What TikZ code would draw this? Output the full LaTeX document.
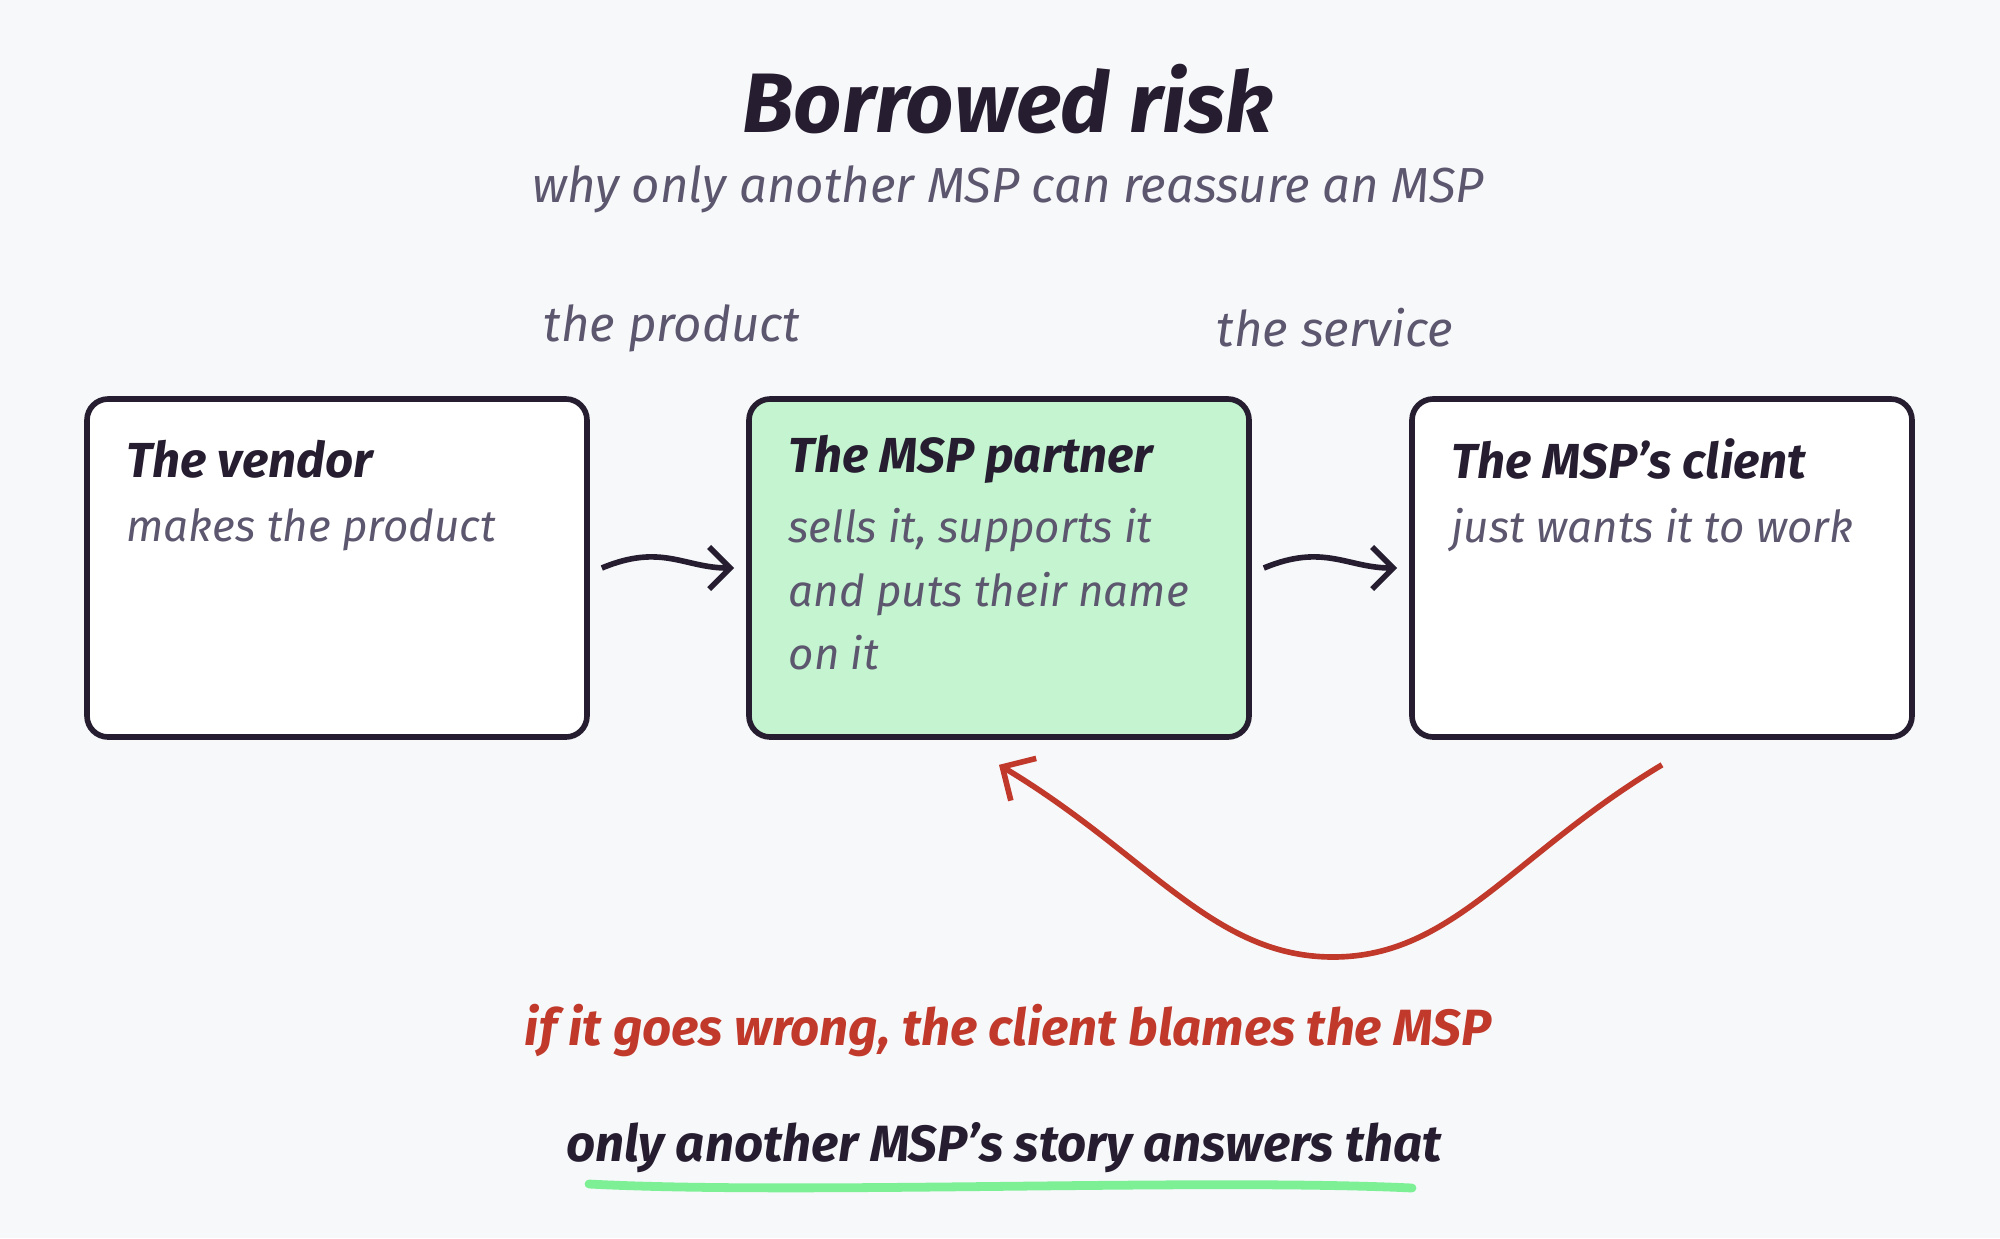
\documentclass[tikz,border=0pt]{standalone}
\usepackage{fontspec}
\setmainfont{Fira Sans}
\usetikzlibrary{arrows.meta, positioning}
\definecolor{ink}{RGB}{38,30,48}
\definecolor{muted}{RGB}{92,86,110}
\definecolor{risk}{RGB}{192,57,43}
\definecolor{partner}{RGB}{196,245,208}
\definecolor{hilite}{RGB}{125,240,150}
\definecolor{paper}{RGB}{247,248,250}
\tikzset{
    card/.style={rectangle, rounded corners=6pt, draw=ink, line width=1.6pt, fill=white, minimum width=5cm, minimum height=3.38cm},
    head/.style={anchor=west, font=\fontsize{14}{18}\selectfont\itshape\bfseries, text=ink},
    note/.style={anchor=north west, font=\fontsize{12.5}{18}\selectfont\itshape, text=muted, align=left},
    flow/.style={-{Straight Barb[length=6pt]}, line width=1.6pt, draw=ink}
}
\begin{document}
\begin{tikzpicture}
    \useasboundingbox[fill=paper] (0,0) rectangle (20,-12.38);
    % Titles
    \node[font=\fontsize{24}{28}\selectfont\itshape\bfseries, text=ink] (title) at (10.08,-0.99) {Borrowed risk};
    \node[font=\fontsize{14}{18}\selectfont\itshape, text=muted] (subtitle) at (10.08,-1.89) {why only another MSP can reassure an MSP};
    \node[font=\fontsize{14}{18}\selectfont\itshape, text=muted] (product) at (6.72,-3.28) {the product};
    \node[font=\fontsize{14}{18}\selectfont\itshape, text=muted] (service) at (13.35,-3.28) {the service};
    % Cards
    \node[card] (vendor) at (3.37,-5.68) {};
    \node[card, fill=partner] (partner) at (9.99,-5.68) {};
    \node[card] (client) at (16.62,-5.68) {};
    \node[head] at ([xshift=0.3cm, yshift=-0.63cm]vendor.north west) {The vendor};
    \node[note] at ([xshift=0.3cm, yshift=-1.0cm]vendor.north west) {makes the product};
    \node[head] at ([xshift=0.3cm, yshift=-0.63cm]partner.north west) {The MSP partner};
    \node[note] at ([xshift=0.3cm, yshift=-1.0cm]partner.north west) {sells it, supports it\\and puts their name\\on it};
    \node[head] at ([xshift=0.3cm, yshift=-0.63cm]client.north west) {The MSP’s client};
    \node[note] at ([xshift=0.3cm, yshift=-1.0cm]client.north west) {just wants it to work};
    % Arrows
    \draw[flow] ([xshift=0.12cm]vendor.east) .. controls +(0.6,0.25) and +(-0.5,0) .. ([xshift=-0.12cm]partner.west);
    \draw[flow] ([xshift=0.12cm]partner.east) .. controls +(0.6,0.25) and +(-0.5,0) .. ([xshift=-0.12cm]client.west);
    % Blame loop
    \coordinate (dip) at (13.33,-9.57);
    \draw[risk, line width=1.6pt, -{Straight Barb[length=7pt]}] ([yshift=-0.25cm]client.south) .. controls +(-1.5,-0.9) and +(1.2,0) .. (dip) .. controls +(-1.2,0) and +(1.5,-0.9) .. ([yshift=-0.25cm]partner.south);
    % Messages
    \node[font=\fontsize{14.5}{18}\selectfont\itshape\bfseries, text=risk] (blame) at (10.08,-10.31) {if it goes wrong, the client blames the MSP};
    \node[font=\fontsize{14.5}{18}\selectfont\itshape\bfseries, text=ink] (answer) at (10.04,-11.48) {only another MSP’s story answers that};
    \draw[hilite, line width=2.5pt, line cap=round] (5.89,-11.84) .. controls (8,-11.95) and (12,-11.78) .. (14.12,-11.88);
\end{tikzpicture}
\end{document}
